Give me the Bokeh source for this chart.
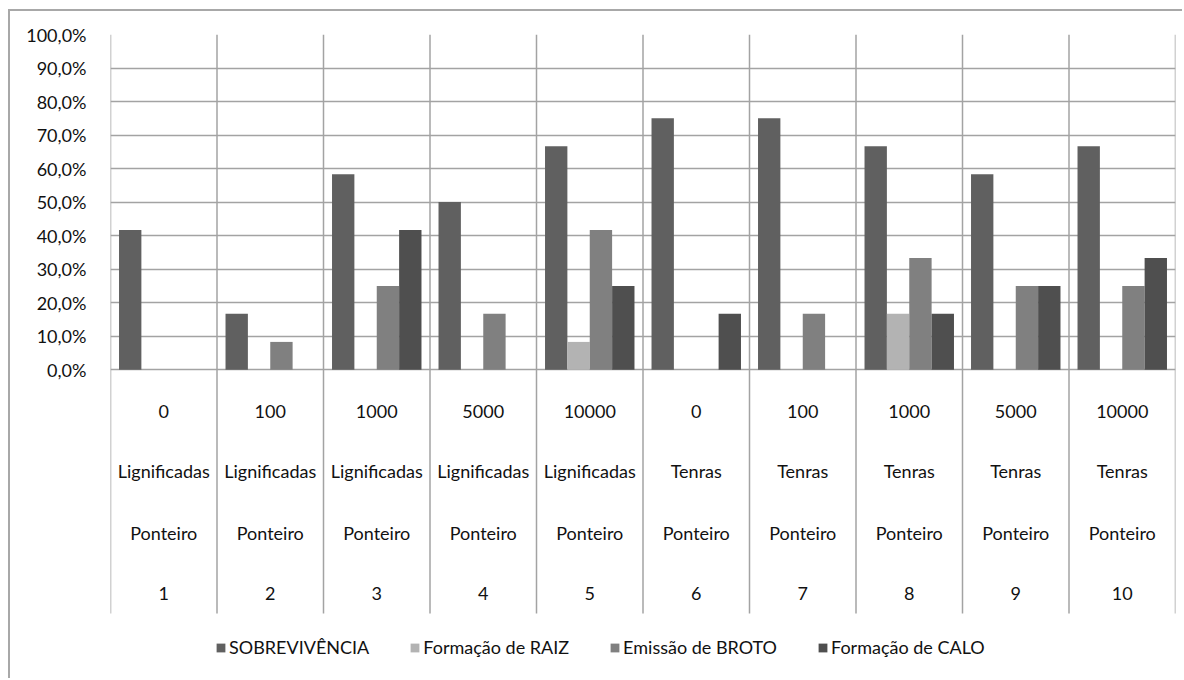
from bokeh.plotting import figure
from bokeh.models import (ColumnDataSource, FixedTicker, Legend, LegendItem)
from bokeh.transform import dodge
from bokeh.core.properties import value
from bokeh.embed import file_html
from bokeh.resources import INLINE

# --- data -------------------------------------------------------------
tratamento = ["1", "2", "3", "4", "5", "6", "7", "8", "9", "10"]
dose = ["0", "100", "1000", "5000", "10000", "0", "100", "1000", "5000", "10000"]
estaca = ["Lignificadas"] * 5 + ["Tenras"] * 5
posicao = ["Ponteiro"] * 10

sobrevivencia = [41.7, 16.7, 58.3, 50.0, 66.7, 75.0, 75.0, 66.7, 58.3, 66.7]
raiz = [0.0, 0.0, 0.0, 0.0, 8.3, 0.0, 0.0, 16.7, 0.0, 0.0]
broto = [0.0, 8.3, 25.0, 16.7, 41.7, 0.0, 16.7, 33.3, 25.0, 25.0]
calo = [0.0, 0.0, 41.7, 0.0, 25.0, 16.7, 0.0, 16.7, 25.0, 33.3]

series_names = ["SOBREVIVÊNCIA", "Formação de RAIZ", "Emissão de BROTO", "Formação de CALO"]
y_ticks = [0, 10, 20, 30, 40, 50, 60, 70, 80, 90, 100]
y_tick_labels = ["0,0%", "10,0%", "20,0%", "30,0%", "40,0%", "50,0%",
                 "60,0%", "70,0%", "80,0%", "90,0%", "100,0%"]

# --- styling ------------------------------------------------------------
FONT = "Lato"
FSIZE = "18px"
TEXT = "#111111"
GRID = "#a3a3a3"
colors = ["#606060", "#b3b3b3", "#808080", "#4f4f4f"]
bar_w = 0.21
offsets = [-0.315, -0.105, 0.105, 0.315]
# rows of the category table, in value units below the 0% line
row_y = [-12.6, -30.1, -48.7, -66.8]
table_bottom = -72.7

n = len(tratamento)
centers = [i + 0.5 for i in range(n)]
bounds = list(range(n + 1))

src = ColumnDataSource(dict(
    x=centers, s=sobrevivencia, r=raiz, b=broto, c=calo,
    dose=dose, estaca=estaca, posicao=posicao, trat=tratamento,
))

p = figure(width=1174, height=669, x_range=(0, n), y_range=(-92.7, 100),
           output_backend="svg", toolbar_location=None,
           min_border_left=100, min_border_right=9,
           min_border_top=23, min_border_bottom=0)
p.margin = (9, 0, 0, 8)
p.styles = {"border-left": "2px solid #a8a8a8", "border-top": "2px solid #a8a8a8"}
p.outline_line_color = None
p.background_fill_color = "white"
p.border_fill_color = "white"

# grid: percentage lines across, category boundaries down through the table
p.xgrid.visible = False
p.ygrid.ticker = FixedTicker(ticks=y_ticks)
p.ygrid.grid_line_color = GRID
p.ygrid.grid_line_width = 1.5
p.xaxis.visible = False
p.segment(x0=bounds, x1=bounds, y0=[table_bottom] * len(bounds), y1=[100] * len(bounds),
          line_color=GRID, line_width=1.5)

p.yaxis.ticker = FixedTicker(ticks=y_ticks)
p.yaxis.major_label_overrides = {t: l for t, l in zip(y_ticks, y_tick_labels)}
p.yaxis.axis_line_color = None
p.yaxis.major_tick_line_color = None
p.yaxis.minor_tick_line_color = None
p.yaxis.major_label_standoff = 18
p.yaxis.major_label_text_font = FONT
p.yaxis.major_label_text_font_size = FSIZE
p.yaxis.major_label_text_color = TEXT

renderers = []
for col, off, colr in zip(["s", "r", "b", "c"], offsets, colors):
    r = p.vbar(x=dodge("x", off, range=p.x_range), top=col, bottom=0, width=bar_w,
               source=src, fill_color=colr, line_color=None)
    renderers.append(r)

# category table under the bars
for field, yy in zip(["dose", "estaca", "posicao", "trat"], row_y):
    p.text(x="x", y=yy, text=field, source=src, text_align="center",
           text_baseline="middle", text_font=value(FONT), text_font_size=FSIZE,
           text_color=TEXT)

legend = Legend(items=[LegendItem(label=nm, renderers=[r]) for nm, r in zip(series_names, renderers)],
                orientation="horizontal", location=(105, 22),
                glyph_width=11, glyph_height=11, label_standoff=3, spacing=40,
                padding=0, margin=0, border_line_color=None, background_fill_alpha=0,
                label_text_font=FONT, label_text_font_size=FSIZE,
                label_text_color=TEXT, label_height=20)
p.add_layout(legend, "center")

open("out.html", "w").write(file_html(p, INLINE))
